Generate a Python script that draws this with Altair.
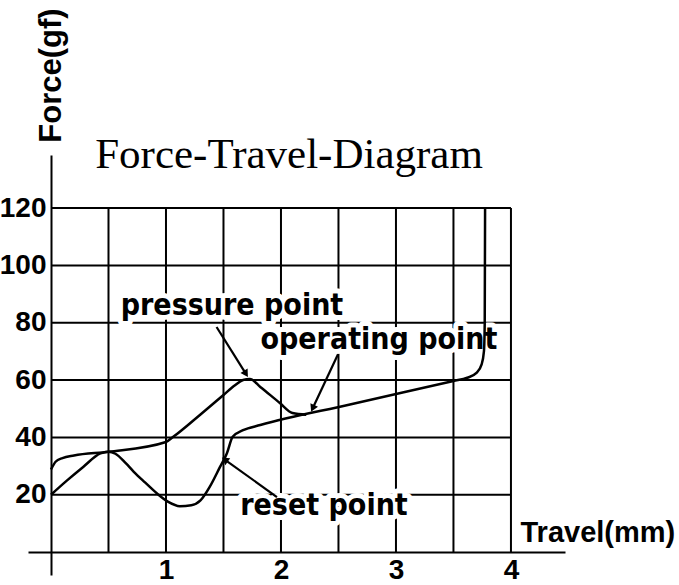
import math
import altair as alt
import pandas as pd

# ---- data (travel in mm, force in gf) ----
curve_a_x = [0, 0.14, 0.28, 0.43, 0.5, 0.56, 0.65, 0.72, 0.82, 0.92, 1.02, 1.12,
             1.22, 1.3, 1.38, 1.47, 1.53, 1.58, 1.67, 1.82, 2.6, 3.5, 3.62, 3.7,
             3.745, 3.765, 3.772, 3.775]
curve_a_y = [20, 25, 29.7, 34.4, 35, 34.3, 31, 28, 24.2, 20.5, 17.5, 16, 16.3, 18,
             22.7, 29.7, 34.5, 40.2, 42.5, 44.3, 51.5, 59.7, 60.8, 62.5, 65.5, 70,
             80, 120]

curve_b_x = [0, 0.04, 0.1, 0.2, 0.5, 1.0, 1.06, 1.3, 1.5, 1.6, 1.67, 1.73, 1.82,
             1.99, 2.1, 2.22]
curve_b_y = [28.8, 31.5, 32.8, 33.7, 35, 38.4, 40.1, 48, 54.8, 58.2, 60, 60.4, 57.6,
             52, 48.5, 47.9]

grid_x = [0.5, 1, 1.5, 2, 2.5, 3, 3.5, 4]
grid_y = [20, 40, 60, 80, 100, 120]
x_tick_values = [1, 2, 3, 4]
y_tick_values = [20, 40, 60, 80, 100, 120]

label_text = ["pressure point", "operating point", "reset point"]
label_x = [1.574, 2.852, 2.374]
label_y = [82.7, 70.9, 12.9]

arrow_x0 = [1.44, 2.496, 1.965]
arrow_y0 = [78.5, 69.0, 19.2]
arrow_x1 = [1.69, 2.28, 1.52]
arrow_y1 = [62.5, 50.5, 32.0]

title_text = ["Force-Travel-Diagram"]
title_x = [2.07]
title_y = [134]

x_domain = [-0.2, 4.47]
y_domain = [-8, 138.5]

W, H = 537, 420

# ---- tables ----
df_a = pd.DataFrame({"x": curve_a_x, "y": curve_a_y, "o": range(len(curve_a_x))})
df_b = pd.DataFrame({"x": curve_b_x, "y": curve_b_y, "o": range(len(curve_b_x))})
df_vgrid = pd.DataFrame({"x": grid_x, "y0": [0] * len(grid_x), "y1": [120] * len(grid_x)})
df_hgrid = pd.DataFrame({"y": grid_y, "x0": [0] * len(grid_y), "x1": [4] * len(grid_y)})
df_lab = pd.DataFrame({"t": label_text, "x": label_x, "y": label_y})

px_x = W / (x_domain[1] - x_domain[0])
px_y = H / (y_domain[1] - y_domain[0])
angles = [
    math.degrees(math.atan2((x1 - x0) * px_x, (y1 - y0) * px_y)) % 360
    for x0, y0, x1, y1 in zip(arrow_x0, arrow_y0, arrow_x1, arrow_y1)
]
df_arr = pd.DataFrame({"x0": arrow_x0, "y0": arrow_y0, "x1": arrow_x1,
                       "y1": arrow_y1, "a": angles})
df_title = pd.DataFrame({"t": title_text, "x": title_x, "y": title_y})

xs = alt.Scale(domain=x_domain, nice=False, zero=False)
ys = alt.Scale(domain=y_domain, nice=False, zero=False)

LAB_FONT = "Liberation Sans"
ANN_FONT = "DejaVu Sans Condensed"

x_axis = alt.Axis(values=x_tick_values, offset=-23, grid=False, ticks=False,
                  domainColor="black", domainWidth=2, labelColor="black",
                  labelFont=LAB_FONT, labelFontSize=28, labelFontWeight="bold",
                  labelPadding=4, labelFlush=False,
                  title="Travel(mm)", titleX=492, titleY=-11, titleAlign="left",
                  titleBaseline="alphabetic", titleFont=LAB_FONT, titleFontSize=29,
                  titleFontWeight="bold", titleColor="black")
y_axis = alt.Axis(values=y_tick_values, offset=-23, grid=False, ticks=False,
                  domainColor="black", domainWidth=2, labelColor="black",
                  labelFont=LAB_FONT, labelFontSize=28, labelFontWeight="bold",
                  labelPadding=5, labelFlush=False,
                  title="Force(gf)", titleAngle=270, titleX=0, titleY=-80,
                  titleAlign="center", titleBaseline="middle", titleFont=LAB_FONT,
                  titleFontSize=31, titleFontWeight="bold", titleColor="black")


def X(field):
    return alt.X(field, scale=xs, axis=x_axis)


def Y(field):
    return alt.Y(field, scale=ys, axis=y_axis)


vgrid = alt.Chart(df_vgrid).mark_rule(color="black", strokeWidth=2).encode(
    x=X("x:Q"), y=Y("y0:Q"), y2="y1:Q")
hgrid = alt.Chart(df_hgrid).mark_rule(color="black", strokeWidth=2).encode(
    y=Y("y:Q"), x=X("x0:Q"), x2="x1:Q")

halo = alt.Chart(df_lab).mark_text(
    font=ANN_FONT, fontSize=30, fontWeight="bold", align="center",
    baseline="alphabetic", fill="white", stroke="white", strokeWidth=10,
    strokeJoin="round",
).encode(x=X("x:Q"), y=Y("y:Q"), text="t:N")

line_a = alt.Chart(df_a).mark_line(color="black", strokeWidth=2.5,
                                   interpolate="monotone").encode(
    x=X("x:Q"), y=Y("y:Q"), order="o:Q")
line_b = alt.Chart(df_b).mark_line(color="black", strokeWidth=2.5,
                                   interpolate="monotone").encode(
    x=X("x:Q"), y=Y("y:Q"), order="o:Q")

arrow_lines = alt.Chart(df_arr).mark_rule(color="black", strokeWidth=2.2).encode(
    x=X("x0:Q"), y=Y("y0:Q"), x2="x1:Q", y2="y1:Q")
arrow_heads = alt.Chart(df_arr).mark_point(shape="triangle", filled=True,
                                           size=70, opacity=1).encode(
    x=X("x1:Q"), y=Y("y1:Q"),
    angle=alt.Angle("a:Q", scale=None),
    color=alt.value("black"))

labels = alt.Chart(df_lab).mark_text(
    font=ANN_FONT, fontSize=30, fontWeight="bold", align="center",
    baseline="alphabetic", color="black",
).encode(x=X("x:Q"), y=Y("y:Q"), text="t:N")

title = alt.Chart(df_title).mark_text(
    font="Liberation Serif", fontSize=43, align="center", baseline="alphabetic",
    color="black",
).encode(x=X("x:Q"), y=Y("y:Q"), text="t:N")

chart = alt.layer(vgrid, hgrid, halo, line_a, line_b, arrow_lines, arrow_heads,
                  labels, title).properties(
    width=W, height=H,
    autosize=alt.AutoSizeParams(type="none"),
    padding={"left": 28, "top": 155, "right": 114, "bottom": 10},
    background="white",
).configure_view(stroke=None)

chart.save("out.html", embed_options={"renderer": "svg", "actions": False})
